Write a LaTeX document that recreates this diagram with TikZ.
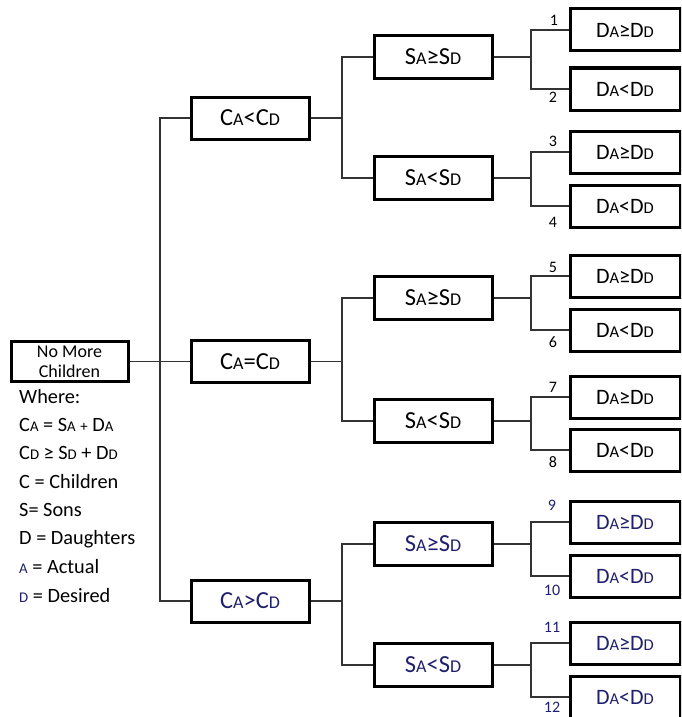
\documentclass[tikz,border=0pt]{standalone}
\usepackage{fontspec}
\setmainfont{Carlito}
\definecolor{navy}{RGB}{32,32,110}
\newcommand{\smA}[1]{{\fontsize{18}{20}\selectfont #1}}
\newcommand{\smB}[1]{{\fontsize{16.5}{18}\selectfont #1}}
\newcommand{\smC}[1]{{\fontsize{14.8}{16}\selectfont #1}}
\tikzset{
  box/.style={draw=black, line width=3pt, inner sep=0pt, fill=white},
  rootbox/.style={box, minimum width=117pt, minimum height=40pt, align=center,
    font=\fontsize{18}{20}\selectfont},
  lone/.style={box, minimum width=118pt, minimum height=42pt, font=\fontsize{24.5}{28}\selectfont},
  ltwo/.style={box, minimum width=118pt, minimum height=43pt, font=\fontsize{24.5}{28}\selectfont},
  lthree/.style={box, minimum width=110pt, minimum height=42pt, font=\fontsize{22}{26}\selectfont},
  conn/.style={draw=black!80, line width=1.3pt},
  num/.style={inner sep=0pt, font=\fontsize{16}{18}\selectfont},
  leg/.style={anchor=west, inner sep=0pt, font=\fontsize{20.3}{24}\selectfont},
}
\begin{document}
\begin{tikzpicture}[x=1pt,y=-1pt]
\useasboundingbox (0,0) rectangle (681,717);
\clip (0,0) rectangle (681,717);
% root
\node[rootbox] (root) at (69.5,361.5) {No More\\Children};
% level 1
\node[lone] (c1) at (250,118) {C\smA{A}<C\smA{D}};
\node[lone] (c2) at (250,361.5) {C\smA{A}=C\smA{D}};
\node[lone, text=navy] (c3) at (250,601) {C\smA{A}>C\smA{D}};
% level 2
\node[ltwo] (s1) at (433,57) {S\smA{A}≥S\smA{D}};
\node[ltwo] (s2) at (433,178) {S\smA{A}<S\smA{D}};
\node[ltwo] (s3) at (433,298) {S\smA{A}≥S\smA{D}};
\node[ltwo] (s4) at (433,421) {S\smA{A}<S\smA{D}};
\node[ltwo, text=navy] (s5) at (433,544) {S\smA{A}≥S\smA{D}};
\node[ltwo, text=navy] (s6) at (433,665) {S\smA{A}<S\smA{D}};
% level 3
\node[lthree] (d1) at (625,30) {D\smB{A}≥D\smB{D}};
\node[lthree] (d2) at (625,89) {D\smB{A}<D\smB{D}};
\node[lthree] (d3) at (625,152) {D\smB{A}≥D\smB{D}};
\node[lthree] (d4) at (625,206) {D\smB{A}<D\smB{D}};
\node[lthree] (d5) at (625,276) {D\smB{A}≥D\smB{D}};
\node[lthree] (d6) at (625,330) {D\smB{A}<D\smB{D}};
\node[lthree] (d7) at (625,397) {D\smB{A}≥D\smB{D}};
\node[lthree] (d8) at (625,450) {D\smB{A}<D\smB{D}};
\node[lthree, text=navy] (d9) at (625,522) {D\smB{A}≥D\smB{D}};
\node[lthree, text=navy] (d10) at (625,576) {D\smB{A}<D\smB{D}};
\node[lthree, text=navy] (d11) at (625,643) {D\smB{A}≥D\smB{D}};
\node[lthree, text=navy] (d12) at (625,697) {D\smB{A}<D\smB{D}};
% junctions
\coordinate (j0) at (160,361.5);
\coordinate (j1) at (342,118);
\coordinate (j2) at (342,361.5);
\coordinate (j3) at (342,601);
\foreach \i/\y in {1/57,2/178,3/298,4/421,5/544,6/665}{
  \coordinate (k\i) at (531,\y);
}
% connectors
\draw[conn] (root.east) -- (j0);
\draw[conn] (j0) |- (c1.west);
\draw[conn] (j0) -- (c2.west);
\draw[conn] (j0) |- (c3.west);
\draw[conn] (c1.east) -- (j1);
\draw[conn] (j1) |- (s1.west);
\draw[conn] (j1) |- (s2.west);
\draw[conn] (c2.east) -- (j2);
\draw[conn] (j2) |- (s3.west);
\draw[conn] (j2) |- (s4.west);
\draw[conn] (c3.east) -- (j3);
\draw[conn] (j3) |- (s5.west);
\draw[conn] (j3) |- (s6.west);
\foreach \i/\a/\b in {1/1/2,2/3/4,3/5/6,4/7/8,5/9/10,6/11/12}{
  \draw[conn] (s\i.east) -- (k\i);
  \draw[conn] (k\i) |- (d\a.west);
  \draw[conn] (k\i) |- (d\b.west);
}
% numbers
\node[num] (n1) at (554,20) {1};
\node[num] (n2) at (553,97) {2};
\node[num] (n3) at (553,141) {3};
\node[num] (n4) at (553,222) {4};
\node[num] (n5) at (553,267) {5};
\node[num] (n6) at (553,342) {6};
\node[num] (n7) at (553,387) {7};
\node[num] (n8) at (553,462) {8};
\node[num, text=navy] (n9) at (552,505) {9};
\node[num, text=navy] (n10) at (552,590) {10};
\node[num, text=navy] (n11) at (552,627) {11};
\node[num, text=navy] (n12) at (552,707) {12};
% legend
\node[leg] (g1) at (19,397) {Where:};
\node[leg] (g2) at (19,425) {C\smC{A} = S\smC{A} \smC{+} D\smC{A}};
\node[leg] (g3) at (19,453) {C\smC{D} ≥ S\smC{D} + D\smC{D}};
\node[leg] (g4) at (19,482) {C = Children};
\node[leg] (g5) at (19,510) {S= Sons};
\node[leg] (g6) at (19,539) {D = Daughters};
\node[leg] (g7) at (19,567) {\textcolor{navy}{\smC{A}} = Actual};
\node[leg] (g8) at (19,596) {\textcolor{navy}{\smC{D}} = Desired};
\end{tikzpicture}
\end{document}
